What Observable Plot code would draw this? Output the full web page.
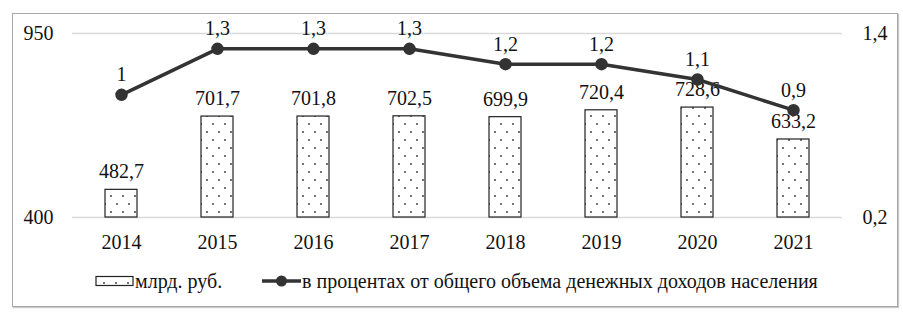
<!DOCTYPE html>
<html>
<head>
<meta charset="utf-8">
<script src="https://cdn.jsdelivr.net/npm/d3@7"></script>
<script src="https://cdn.jsdelivr.net/npm/@observablehq/plot@0.6"></script>
<style>
  html, body { margin: 0; padding: 0; background: #fff; }
  body { width: 903px; height: 317px; position: relative; overflow: hidden; }
  #frame { position: absolute; left: 12px; top: 13px; width: 884px; height: 292px; border: 1px solid #a8a8a8; box-shadow: 1px 1px 1px #c8c8c8; }
  #chart { position: absolute; left: 0; top: 0; }
  #legend { position: absolute; left: 0; top: 268px; width: 903px; height: 26px; font-size: 20px; color: #111; }
  #legend .item { position: absolute; top: 0; display: flex; align-items: center; height: 26px; }
  #legend svg { display: block; }
</style>
</head>
<body style="font-family:'Liberation Serif'">
<div id="frame"></div>
<div id="chart"></div>
<div id="legend"></div>
<script>
const years = ["2014", "2015", "2016", "2017", "2018", "2019", "2020", "2021"];
const amounts = [482.7, 701.7, 701.8, 702.5, 699.9, 720.4, 728.6, 633.2];
const percents = [1, 1.3, 1.3, 1.3, 1.2, 1.2, 1.1, 0.9];
const leftTicks = [400, 950];
const rightTicks = [0.2, 1.4];
const seriesNames = ["млрд. руб.", "в процентах от общего объема денежных доходов населения"];

const yDomain = [400, 950];
const rDomain = [0.2, 1.4];
const toLeft = v => yDomain[0] + (v - rDomain[0]) / (rDomain[1] - rDomain[0]) * (yDomain[1] - yDomain[0]);
const fmt = v => String(v).replace(".", ",");

const bars = years.map((y, i) => ({year: y, value: amounts[i]}));
const line = years.map((y, i) => ({year: y, pct: percents[i], yv: toLeft(percents[i])}));

const FONT = "Liberation Serif";
const FS = 20;

const chart = Plot.plot({
  width: 903,
  height: 262,
  marginLeft: 72,
  marginRight: 61,
  marginTop: 33,
  marginBottom: 45,
  style: {fontFamily: FONT, fontSize: FS + "px", color: "#111", background: "transparent"},
  x: {type: "band", domain: years, paddingInner: 0.67, paddingOuter: 0.335, label: null},
  y: {domain: yDomain, label: null},
  marks: [
    Plot.ruleY(leftTicks, {stroke: "#d9d9d9", strokeWidth: 1.5}),
    Plot.barY(bars, {x: "year", y1: yDomain[0], y2: "value", fill: "url(#dots)", stroke: "#222", strokeWidth: 1.2}),
    Plot.text(bars, {x: "year", y: "value", text: d => fmt(d.value), dy: -18, fontSize: FS, fill: "#111"}),
    Plot.line(line, {x: "year", y: "yv", stroke: "#333", strokeWidth: 3.5}),
    Plot.dot(line, {x: "year", y: "yv", r: 5.5, fill: "#333", stroke: "#333"}),
    Plot.text(line, {x: "year", y: "yv", text: d => fmt(d.pct), dy: -20, fontSize: FS, fill: "#111"}),
    Plot.axisY(leftTicks, {anchor: "left", tickSize: 0, tickPadding: 19, tickFormat: d => String(d), fontSize: FS}),
    Plot.axisY(rightTicks.map(toLeft), {anchor: "right", tickSize: 0, tickPadding: 20, tickFormat: (d, i) => fmt(rightTicks[i]), fontSize: FS}),
    Plot.axisX({tickSize: 0, tickPadding: 17, fontSize: FS})
  ]
});

chart.querySelectorAll("text").forEach(t => t.setAttribute("font-family", FONT));

const defs = document.createElementNS("http://www.w3.org/2000/svg", "defs");
defs.innerHTML = `<pattern id="dots" patternUnits="userSpaceOnUse" width="12" height="16">
  <rect width="12" height="16" fill="#fff"/>
  <circle cx="3" cy="4" r="0.9" fill="#333"/>
  <circle cx="9" cy="12" r="0.9" fill="#333"/>
</pattern>`;
chart.insertBefore(defs, chart.firstChild);
document.getElementById("chart").appendChild(chart);

const legend = document.getElementById("legend");
legend.innerHTML = `
<div class="item" style="left:95px">
  <svg width="40" height="12"><defs><pattern id="dots2" patternUnits="userSpaceOnUse" width="12" height="16"><rect width="12" height="16" fill="#fff"/><circle cx="9" cy="8" r="0.9" fill="#333"/><circle cx="22" cy="8" r="0.9" fill="#333"/></pattern></defs>
  <rect x="1" y="1.5" width="37" height="9" fill="url(#dots2)" stroke="#222" stroke-width="1.2"/></svg>
  <span style="font-family:'Liberation Serif'">${seriesNames[0]}</span>
</div>
<div class="item" style="left:262px">
  <svg width="40" height="14"><line x1="0" y1="7" x2="39" y2="7" stroke="#333" stroke-width="3.5"/><circle cx="19.5" cy="7" r="5.5" fill="#333"/></svg>
  <span style="font-family:'Liberation Serif'">${seriesNames[1]}</span>
</div>`;
</script>
</body>
</html>
